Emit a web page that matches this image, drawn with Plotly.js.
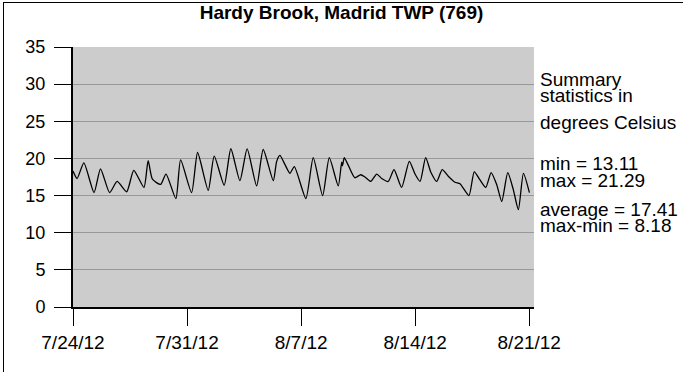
<!DOCTYPE html>
<html>
<head>
<meta charset="utf-8">
<script src="https://cdn.plot.ly/plotly-3.0.1.min.js"></script>
<style>
  html, body { margin: 0; padding: 0; background: #fff; }
  #chart { position: absolute; left: 0; top: 0; width: 683px; height: 372px; }
  #frame { position: absolute; left: 3px; top: 2px; width: 720px; height: 420px; border: 1px solid #000; pointer-events: none; }
</style>
</head>
<body>
<div id="chart"></div>
<div id="frame"></div>
<script>
const times = [
  '2012-07-24 00:00','2012-07-24 06:00','2012-07-24 16:00','2012-07-25 07:00','2012-07-25 16:30',
  '2012-07-26 06:00','2012-07-26 17:00','2012-07-27 07:00','2012-07-27 17:30','2012-07-28 08:30',
  '2012-07-28 14:40','2012-07-28 21:00','2012-07-29 09:00','2012-07-29 17:00','2012-07-30 07:30',
  '2012-07-30 14:30','2012-07-31 06:40','2012-07-31 15:30','2012-08-01 07:10','2012-08-01 16:00',
  '2012-08-02 06:40','2012-08-02 16:30','2012-08-03 05:50','2012-08-03 16:30','2012-08-04 06:30',
  '2012-08-04 16:10','2012-08-05 07:00','2012-08-05 12:00','2012-08-05 16:50','2012-08-05 23:00',
  '2012-08-06 07:30','2012-08-06 14:00','2012-08-07 07:00','2012-08-07 17:50','2012-08-08 07:40',
  '2012-08-08 17:30','2012-08-09 06:40','2012-08-09 11:45','2012-08-09 13:00','2012-08-09 15:30',
  '2012-08-09 21:20','2012-08-10 07:10','2012-08-10 15:40','2012-08-10 22:00','2012-08-11 06:30',
  '2012-08-11 15:20','2012-08-11 22:40','2012-08-12 08:20','2012-08-12 16:50','2012-08-13 04:00',
  '2012-08-13 15:20','2012-08-13 23:45','2012-08-14 07:10','2012-08-14 15:25','2012-08-14 23:15',
  '2012-08-15 07:40','2012-08-15 15:50','2012-08-16 00:45','2012-08-16 10:30','2012-08-16 18:00',
  '2012-08-17 07:10','2012-08-17 15:00','2012-08-17 23:30','2012-08-18 08:00','2012-08-18 15:50',
  '2012-08-19 00:00','2012-08-19 07:30','2012-08-19 16:20','2012-08-20 00:30','2012-08-20 08:00',
  '2012-08-20 15:25','2012-08-21 00:15'
];
const tempC = [
  18.3, 17.3, 19.4, 15.4, 18.6,
  15.4, 16.9, 15.5, 18.4, 16.1,
  19.7, 17.2, 16.5, 17.9, 14.6,
  19.8, 15.4, 20.8, 15.7, 20.3,
  16.4, 21.3, 17.0, 21.29, 16.3,
  21.2, 17.0, 19.6, 20.4, 19.4,
  18.0, 18.9, 14.6, 20.1, 15.0,
  20.1, 16.3, 19.5, 19.0, 20.1,
  19.1, 17.4, 17.8, 17.5, 16.9,
  17.9, 17.3, 16.9, 18.5, 16.1,
  19.6, 17.9, 16.9, 20.1, 18.1,
  16.9, 18.5, 17.6, 16.8, 16.6,
  15.0, 18.2, 17.1, 16.1, 18.1,
  16.5, 14.2, 18.1, 15.8, 13.11,
  18.0, 15.4
];
const tickDates = ['2012-07-24','2012-07-31','2012-08-07','2012-08-14','2012-08-21'];
const tickLabels = ['7/24/12','7/31/12','8/7/12','8/14/12','8/21/12'];
const yTicks = [0, 5, 10, 15, 20, 25, 30, 35];
const titleText = 'Hardy Brook, Madrid TWP (769)';
const statsLines = ['Summary', 'statistics in', 'degrees Celsius', 'min = 13.11', 'max = 21.29', 'average = 17.41', 'max-min = 8.18'];
const statsY = [79, 95, 122, 163, 180, 209, 225];

const font = 'Liberation Sans, Arial, sans-serif';
const H = 372, T = 47, B = 65;
const plotH = H - T - B;
function paperY(py) { return (H - B - py) / plotH; }

const annotations = statsLines.map((s, i) => ({
  text: s, xref: 'paper', yref: 'paper', x: 1.011, y: paperY(statsY[i]),
  xanchor: 'left', yanchor: 'middle', align: 'left', showarrow: false, borderpad: 0,
  font: { family: font, size: 19, color: '#000' }
}));

Plotly.newPlot('chart', [{
  x: times, y: tempC, type: 'scatter', mode: 'lines',
  line: { color: '#000', width: 1.3, shape: 'spline', smoothing: 0.6 },
  hoverinfo: 'skip'
}], {
  width: 683, height: 372,
  margin: { l: 73, r: 149, t: T, b: B, pad: 0 },
  paper_bgcolor: '#fff', plot_bgcolor: '#cccccc',
  showlegend: false,
  title: { text: '<b>' + titleText + '</b>', x: 0.5, xref: 'container', y: 1 - 12 / 372, yref: 'container', yanchor: 'middle', xanchor: 'center',
           font: { family: font, size: 19, color: '#000' } },
  xaxis: {
    type: 'date', range: ['2012-07-24 00:00', '2012-08-21 07:00'],
    tickvals: tickDates, ticktext: tickLabels, ticks: 'outside', ticklen: 17, tickcolor: '#000', tickwidth: 1,
    showgrid: false, zeroline: false, showline: true, linecolor: '#000', linewidth: 2,
    tickfont: { family: font, size: 19, color: '#000' }, ticklabelstandoff: 0
  },
  yaxis: {
    range: [0, 35], tickvals: yTicks, ticks: 'outside', ticklen: 17, tickcolor: '#000', tickwidth: 1,
    showgrid: true, gridcolor: '#999999', gridwidth: 1, zeroline: false,
    showline: true, linecolor: '#000', linewidth: 2,
    tickfont: { family: font, size: 18, color: '#000' }, ticklabelstandoff: 5
  },
  annotations: annotations
}, { staticPlot: true });
</script>
</body>
</html>
